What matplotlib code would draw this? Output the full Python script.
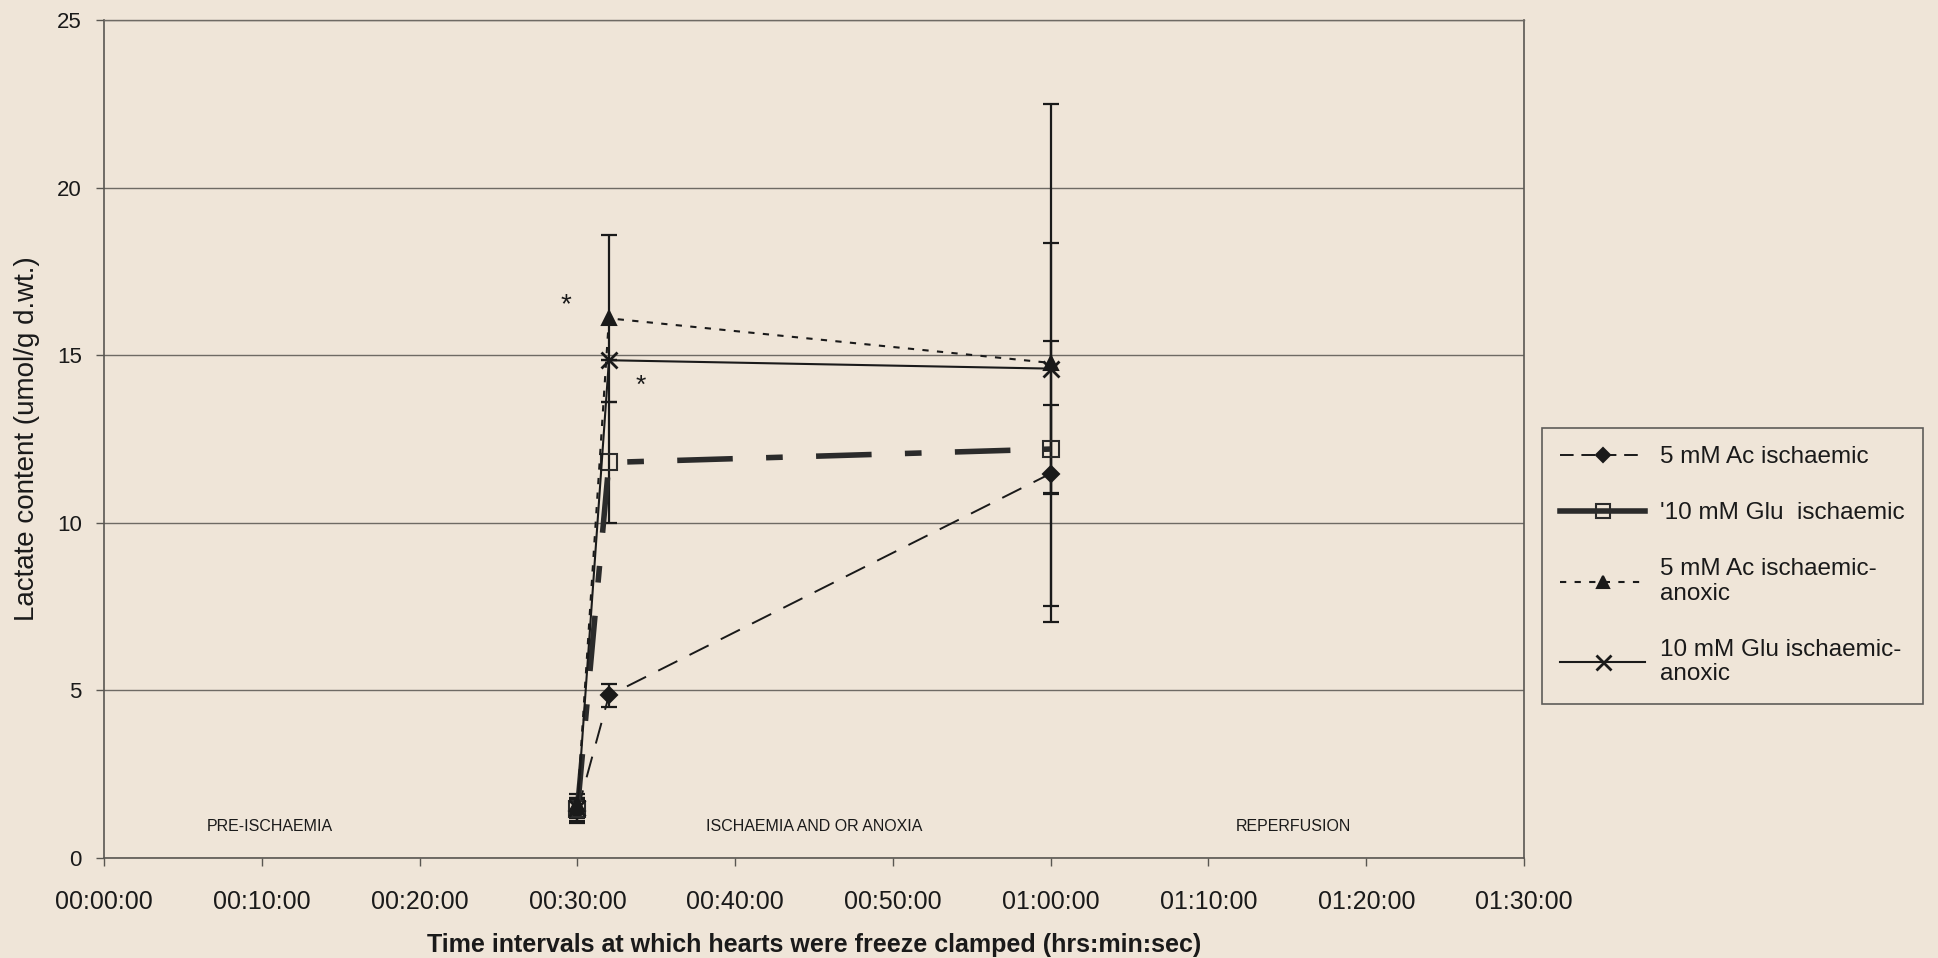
import matplotlib
matplotlib.use("Agg")
import matplotlib.pyplot as plt
from matplotlib.ticker import FuncFormatter, MultipleLocator
from matplotlib.lines import Line2D

# Freeze-clamp times (minutes from start of perfusion)
times = [30, 32, 60]

# Lactate content (umol/g d.wt.) and error bar half-widths
ac_isch = [1.4, 4.85, 11.47]
ac_isch_err = [0.35, 0.35, 3.95]

glu_isch = [1.45, 11.8, 12.2]
glu_isch_err = [0.35, 1.8, 1.3]

ac_anox = [1.6, 16.1, 14.77]
ac_anox_err = [0.3, 2.5, 7.73]

glu_anox = [1.5, 14.85, 14.6]
glu_anox_err = [0.3, 0.0, 3.75]

labels = ["5 mM Ac ischaemic", "'10 mM Glu  ischaemic",
          "5 mM Ac ischaemic-\nanoxic", "10 mM Glu ischaemic-\nanoxic"]

phase_labels = ["PRE-ISCHAEMIA", "ISCHAEMIA AND OR ANOXIA", "REPERFUSION"]
phase_x = [10.5, 45.0, 75.4]

x_ticks = list(range(0, 91, 10))

BG = "#efe5d8"
INK = "#1a1a1a"
SANS = ["Liberation Sans", "DejaVu Sans"]

fig = plt.figure(figsize=(19.38, 9.58), dpi=100, facecolor=BG)
ax = fig.add_axes([0.0537, 0.1044, 0.7327, 0.8747], facecolor=BG)

series = [
    dict(y=ac_isch, e=ac_isch_err, ls=(0, (11, 7)), lw=1.4, marker="D", ms=8,
         mfc=INK, color=INK, leg_ls=(0, (7, 4))),
    dict(y=glu_isch, e=glu_isch_err, ls=(0, (10, 6, 3, 6)), lw=4.0, marker="s", ms=11,
         mfc="none", color="#2b2b2b", leg_ls="-"),
    dict(y=ac_anox, e=ac_anox_err, ls=(0, (3, 4)), lw=1.5, marker="^", ms=10,
         mfc=INK, color=INK, leg_ls=(0, (3, 4))),
    dict(y=glu_anox, e=glu_anox_err, ls="-", lw=1.5, marker="x", ms=12,
         mfc=INK, color=INK, leg_ls="-"),
]

handles = []
for s, lab in zip(series, labels):
    ax.errorbar(times, s["y"], yerr=s["e"], fmt="none", ecolor=INK,
                elinewidth=1.6, capsize=6, capthick=1.6, zorder=3)
    mew = 2.0 if s["marker"] == "x" else 1.5
    ax.plot(times, s["y"], linestyle=s["ls"], linewidth=s["lw"],
            color=s["color"], marker=s["marker"], markersize=s["ms"],
            markerfacecolor=s["mfc"], markeredgecolor=s["color"],
            markeredgewidth=mew, label=lab, zorder=4)
    handles.append(Line2D([], [], linestyle=s["leg_ls"], linewidth=s["lw"],
                          color=s["color"], marker=s["marker"],
                          markersize=s["ms"] * 0.9, markerfacecolor=s["mfc"],
                          markeredgecolor=s["color"], markeredgewidth=mew))

# Significance markers
ax.text(29.3, 16.5, "*", fontsize=20, ha="center", va="center", color=INK,
        family=SANS)
ax.text(34.0, 14.1, "*", fontsize=19, ha="center", va="center", color=INK,
        family=SANS)

# Phase annotations along the bottom
for px, pl in zip(phase_x, phase_labels):
    ax.text(px, 0.95, pl, fontsize=11.5, ha="center", va="center", color=INK,
            family=SANS)

ax.set_xlim(0, 90)
ax.set_ylim(0, 25)
ax.set_xticks(x_ticks)
ax.yaxis.set_major_locator(MultipleLocator(5))


def hms(v, pos=None):
    m = int(round(v))
    return f"{m // 60:02d}:{m % 60:02d}:00"


ax.xaxis.set_major_formatter(FuncFormatter(hms))
ax.grid(axis="y", color="#6e6a64", linewidth=1.0)
ax.set_axisbelow(True)

for side in ["left", "bottom", "right", "top"]:
    ax.spines[side].set_color("#5a5752")
    ax.spines[side].set_linewidth(1.2)
ax.spines["top"].set_color("#6e6a64")
ax.spines["top"].set_linewidth(1.0)

ax.tick_params(axis="x", direction="out", length=6, width=1, color="#5a5752",
               pad=17, labelsize=18, labelcolor=INK)
ax.tick_params(axis="y", direction="out", length=6, width=1, color="#5a5752",
               pad=10, labelsize=16, labelcolor=INK)
for t in ax.get_xticklabels() + ax.get_yticklabels():
    t.set_family(SANS)

ax.set_xlabel("Time intervals at which hearts were freeze clamped (hrs:min:sec)",
              fontsize=18, fontweight="bold", family=SANS, color=INK,
              labelpad=14)
ax.set_ylabel("Lactate content (umol/g d.wt.)", fontsize=20, family=SANS,
              color=INK, labelpad=12)

leg = fig.legend(handles=handles, labels=labels, loc="upper left",
                 bbox_to_anchor=(0.7957, 0.5532), borderaxespad=0,
                 frameon=True, fancybox=False,
                 edgecolor="#3a3a3a", facecolor=BG,
                 handlelength=3.5, handletextpad=0.6, labelspacing=1.4,
                 borderpad=0.75, prop={"family": SANS, "size": 17.5})
leg.get_frame().set_linewidth(1.2)
for t in leg.get_texts():
    t.set_color(INK)
    t.set_linespacing(1.15)

fig.savefig("out.png", dpi=100, facecolor=BG)
